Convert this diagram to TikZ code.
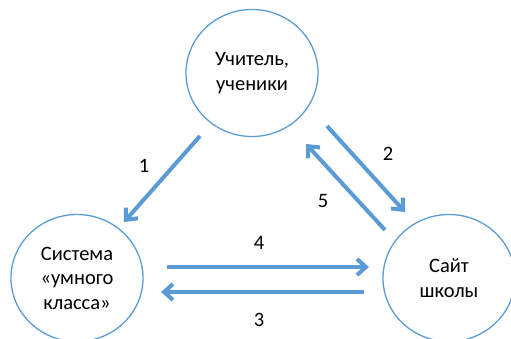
\documentclass[tikz,border=0pt]{standalone}
\usepackage{fontspec}
\setmainfont{Carlito}
\usetikzlibrary{shapes.geometric}
\usetikzlibrary{arrows.meta}
\definecolor{wordblue}{HTML}{5B9BD5}
\tikzset{
	bubble/.style = {ellipse, draw=wordblue, line width=1.3pt, inner sep=0pt,
		minimum width=132pt, minimum height=127pt, align=center,
		font=\fontsize{20.5}{24.5}\selectfont},% participant
	flow/.style = {draw=wordblue, line width=4pt,
		-{Straight Barb[length=9pt, width=16pt, line width=4pt]}},% data flow
	num/.style = {font=\fontsize{20.5}{22}\selectfont}% step number
}
\begin{document}
\begin{tikzpicture}[x=1pt,y=-1pt]
	\useasboundingbox (0,0) rectangle (511,338);
	\node [bubble] (teach) at (252,73) {Учитель,\\ученики};
	\node [bubble] (sys) at (77,278) {Система\\«умного\\класса»};
	\node [bubble] (site) at (449,278) {Сайт\\школы};
	% free ends of the arrows
	\coordinate (a1) at (200,136); \coordinate (b1) at (124,222);
	\coordinate (a2) at (327,126); \coordinate (b2) at (405,212);
	\coordinate (a5) at (385,230); \coordinate (b5) at (306,144);
	\coordinate (a4) at (167,267); \coordinate (b4) at (369,267);
	\coordinate (a3) at (364,292); \coordinate (b3) at (161,292);
	\draw [flow] (a1) -- (b1);
	\draw [flow] (a2) -- (b2);
	\draw [flow] (a5) -- (b5);
	\draw [flow] (a4) -- (b4);
	\draw [flow] (a3) -- (b3);
	\node [num] (n1) at (144,166) {1};
	\node [num] (n2) at (388,154) {2};
	\node [num] (n5) at (323,201) {5};
	\node [num] (n4) at (259,243) {4};
	\node [num] (n3) at (259,320) {3};
\end{tikzpicture}
\end{document}
